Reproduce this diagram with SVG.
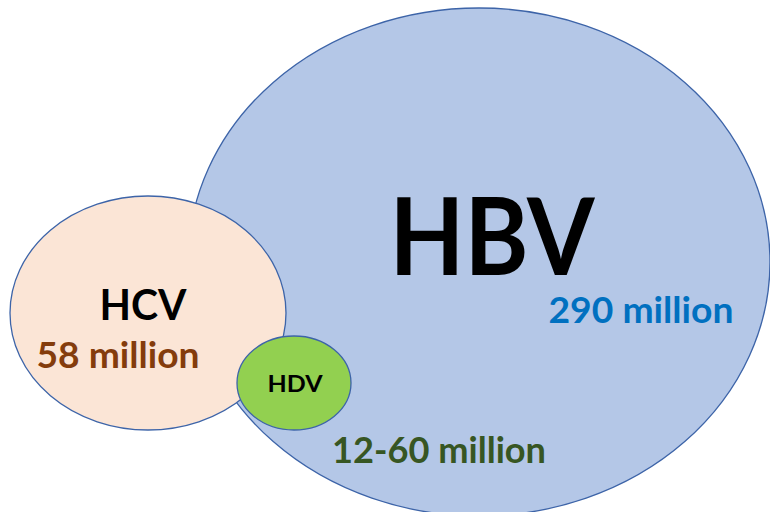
<svg xmlns="http://www.w3.org/2000/svg" width="770" height="512" viewBox="0 0 770 512">
<style>
.e{stroke:#3D64A8;stroke-width:1.3}
.t{font-family:Lato,"Open Sans","Liberation Sans",sans-serif;font-weight:bold;text-anchor:middle}
</style>
<rect width="770" height="512" fill="#ffffff"/>
<g id="hbv">
<ellipse class="e" cx="479" cy="262" rx="291" ry="254" fill="#B4C7E7"/>
<text class="t" x="492" y="275" font-size="108" fill="#000000" textLength="205" lengthAdjust="spacingAndGlyphs">HBV</text>
<text class="t" x="641" y="323" font-size="37" fill="#0070C0" textLength="185" lengthAdjust="spacingAndGlyphs">290 million</text>
</g>
<g id="hcv">
<ellipse class="e" cx="148" cy="313" rx="138" ry="117" fill="#FBE5D6"/>
<text class="t" x="143" y="320" font-size="42" fill="#000000" textLength="87" lengthAdjust="spacingAndGlyphs">HCV</text>
<text class="t" x="118" y="368" font-size="36" fill="#843C0C" textLength="163" lengthAdjust="spacingAndGlyphs">58 million</text>
</g>
<g id="hdv">
<ellipse class="e" cx="294" cy="383" rx="57" ry="47" fill="#92D050"/>
<text class="t" x="295" y="392" font-size="23" fill="#000000" textLength="55" lengthAdjust="spacingAndGlyphs">HDV</text>
<text class="t" x="439" y="463" font-size="36" fill="#375623" textLength="214" lengthAdjust="spacingAndGlyphs">12-60 million</text>
</g>
<g id="connectors"></g>
</svg>
